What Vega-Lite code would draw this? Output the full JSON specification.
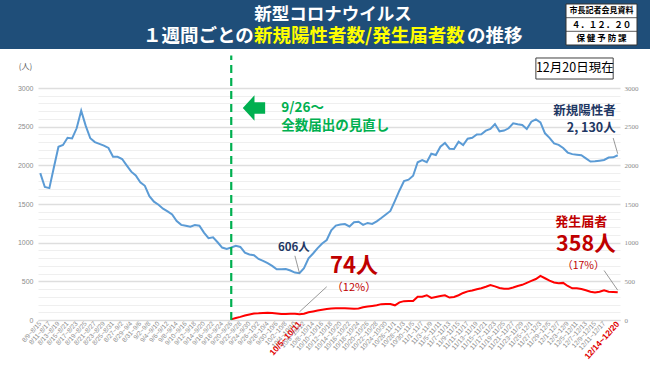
{
  "$schema": "https://vega.github.io/schema/vega-lite/v6.json",
  "padding": 0,
  "spacing": 4,
  "background": "white",
  "config": {"view": {"stroke": null}, "font": "Noto Sans CJK JP"},
  "datasets": {
    "weekly": [
      {"period": "8/9~8/15", "positive": 1900},
      {"period": "8/10~8/16", "positive": 1720},
      {"period": "8/11~8/17", "positive": 1705},
      {"period": "8/12~8/18", "positive": 1975},
      {"period": "8/13~8/19", "positive": 2241},
      {"period": "8/14~8/20", "positive": 2263},
      {"period": "8/15~8/21", "positive": 2357},
      {"period": "8/16~8/22", "positive": 2347},
      {"period": "8/17~8/23", "positive": 2479},
      {"period": "8/18~8/24", "positive": 2707},
      {"period": "8/19~8/25", "positive": 2510},
      {"period": "8/20~8/26", "positive": 2350},
      {"period": "8/21~8/27", "positive": 2300},
      {"period": "8/22~8/28", "positive": 2278},
      {"period": "8/23~8/29", "positive": 2255},
      {"period": "8/24~8/30", "positive": 2225},
      {"period": "8/25~8/31", "positive": 2112},
      {"period": "8/26~9/1", "positive": 2110},
      {"period": "8/27~9/2", "positive": 2082},
      {"period": "8/28~9/3", "positive": 2000},
      {"period": "8/29~9/4", "positive": 1918},
      {"period": "8/30~9/5", "positive": 1870},
      {"period": "8/31~9/6", "positive": 1780},
      {"period": "9/1~9/7", "positive": 1735},
      {"period": "9/2~9/8", "positive": 1600},
      {"period": "9/3~9/9", "positive": 1530},
      {"period": "9/4~9/10", "positive": 1490},
      {"period": "9/5~9/11", "positive": 1440},
      {"period": "9/6~9/12", "positive": 1405},
      {"period": "9/7~9/13", "positive": 1365},
      {"period": "9/8~9/14", "positive": 1280},
      {"period": "9/9~9/15", "positive": 1230},
      {"period": "9/10~9/16", "positive": 1218},
      {"period": "9/11~9/17", "positive": 1206},
      {"period": "9/12~9/18", "positive": 1228},
      {"period": "9/13~9/19", "positive": 1220},
      {"period": "9/14~9/20", "positive": 1130},
      {"period": "9/15~9/21", "positive": 1058},
      {"period": "9/16~9/22", "positive": 1069},
      {"period": "9/17~9/23", "positive": 1005},
      {"period": "9/18~9/24", "positive": 937},
      {"period": "9/19~9/25", "positive": 918},
      {"period": "9/20~9/26", "positive": 938, "notified": 8},
      {"period": "9/21~9/27", "positive": 960, "notified": 25},
      {"period": "9/22~9/28", "positive": 945, "notified": 40},
      {"period": "9/23~9/29", "positive": 870, "notified": 58},
      {"period": "9/24~9/30", "positive": 848, "notified": 72},
      {"period": "9/25~10/1", "positive": 838, "notified": 85},
      {"period": "9/26~10/2", "positive": 789, "notified": 86},
      {"period": "9/27~10/3", "positive": 765, "notified": 90},
      {"period": "9/28~10/4", "positive": 735, "notified": 94},
      {"period": "9/29~10/5", "positive": 700, "notified": 90},
      {"period": "9/30~10/6", "positive": 656, "notified": 84},
      {"period": "10/1~10/7", "positive": 655, "notified": 78},
      {"period": "10/2~10/8", "positive": 660, "notified": 78},
      {"period": "10/3~10/9", "positive": 640, "notified": 82},
      {"period": "10/4~10/10", "positive": 613, "notified": 80},
      {"period": "10/5~10/11", "positive": 606, "notified": 74},
      {"period": "10/6~10/12", "positive": 670, "notified": 82},
      {"period": "10/7~10/13", "positive": 798, "notified": 99},
      {"period": "10/8~10/14", "positive": 860, "notified": 110},
      {"period": "10/9~10/15", "positive": 930, "notified": 122},
      {"period": "10/10~10/16", "positive": 990, "notified": 132},
      {"period": "10/11~10/17", "positive": 1034, "notified": 142},
      {"period": "10/12~10/18", "positive": 1160, "notified": 150},
      {"period": "10/13~10/19", "positive": 1220, "notified": 151},
      {"period": "10/14~10/20", "positive": 1235, "notified": 151},
      {"period": "10/15~10/21", "positive": 1240, "notified": 151},
      {"period": "10/16~10/22", "positive": 1210, "notified": 148},
      {"period": "10/17~10/23", "positive": 1265, "notified": 146},
      {"period": "10/18~10/24", "positive": 1271, "notified": 150},
      {"period": "10/19~10/25", "positive": 1230, "notified": 165},
      {"period": "10/20~10/26", "positive": 1255, "notified": 175},
      {"period": "10/21~10/27", "positive": 1242, "notified": 182},
      {"period": "10/22~10/28", "positive": 1275, "notified": 190},
      {"period": "10/23~10/29", "positive": 1318, "notified": 205},
      {"period": "10/24~10/30", "positive": 1365, "notified": 207},
      {"period": "10/25~10/31", "positive": 1410, "notified": 207},
      {"period": "10/26~11/1", "positive": 1540, "notified": 190},
      {"period": "10/27~11/2", "positive": 1675, "notified": 228},
      {"period": "10/28~11/3", "positive": 1797, "notified": 244},
      {"period": "10/29~11/4", "positive": 1815, "notified": 246},
      {"period": "10/30~11/5", "positive": 1865, "notified": 246},
      {"period": "10/31~11/6", "positive": 2040, "notified": 300},
      {"period": "11/1~11/7", "positive": 2069, "notified": 302},
      {"period": "11/2~11/8", "positive": 2040, "notified": 320},
      {"period": "11/3~11/9", "positive": 2150, "notified": 285},
      {"period": "11/4~11/10", "positive": 2134, "notified": 298},
      {"period": "11/5~11/11", "positive": 2241, "notified": 310},
      {"period": "11/6~11/12", "positive": 2290, "notified": 320},
      {"period": "11/7~11/13", "positive": 2215, "notified": 290},
      {"period": "11/8~11/14", "positive": 2211, "notified": 298},
      {"period": "11/9~11/15", "positive": 2305, "notified": 320},
      {"period": "11/10~11/16", "positive": 2263, "notified": 350},
      {"period": "11/11~11/17", "positive": 2345, "notified": 370},
      {"period": "11/12~11/18", "positive": 2357, "notified": 382},
      {"period": "11/13~11/19", "positive": 2400, "notified": 397},
      {"period": "11/14~11/20", "positive": 2401, "notified": 410},
      {"period": "11/15~11/21", "positive": 2448, "notified": 430},
      {"period": "11/16~11/22", "positive": 2470, "notified": 452},
      {"period": "11/17~11/23", "positive": 2534, "notified": 435},
      {"period": "11/18~11/24", "positive": 2440, "notified": 415},
      {"period": "11/19~11/25", "positive": 2450, "notified": 405},
      {"period": "11/20~11/26", "positive": 2479, "notified": 405},
      {"period": "11/21~11/27", "positive": 2543, "notified": 420},
      {"period": "11/22~11/28", "positive": 2530, "notified": 440},
      {"period": "11/23~11/29", "positive": 2521, "notified": 455},
      {"period": "11/24~11/30", "positive": 2470, "notified": 480},
      {"period": "11/25~12/1", "positive": 2564, "notified": 505},
      {"period": "11/26~12/2", "positive": 2594, "notified": 530},
      {"period": "11/27~12/3", "positive": 2555, "notified": 570},
      {"period": "11/28~12/4", "positive": 2414, "notified": 540},
      {"period": "11/29~12/5", "positive": 2355, "notified": 510},
      {"period": "11/30~12/6", "positive": 2284, "notified": 485},
      {"period": "12/1~12/7", "positive": 2265, "notified": 475},
      {"period": "12/2~12/8", "positive": 2225, "notified": 480},
      {"period": "12/3~12/9", "positive": 2165, "notified": 440},
      {"period": "12/4~12/10", "positive": 2145, "notified": 410},
      {"period": "12/5~12/11", "positive": 2138, "notified": 410},
      {"period": "12/6~12/12", "positive": 2130, "notified": 400},
      {"period": "12/7~12/13", "positive": 2090, "notified": 385},
      {"period": "12/8~12/14", "positive": 2050, "notified": 365},
      {"period": "12/9~12/15", "positive": 2052, "notified": 355},
      {"period": "12/10~12/16", "positive": 2060, "notified": 366},
      {"period": "12/11~12/17", "positive": 2069, "notified": 385},
      {"period": "12/12~12/18", "positive": 2100, "notified": 366},
      {"period": "12/13~12/19", "positive": 2103, "notified": 362},
      {"period": "12/14~12/20", "positive": 2130, "notified": 358}
    ]
  },
  "vconcat": [
    {
      "width": 612,
      "height": 50,
      "view": {"fill": null, "stroke": null},
      "data": {"values": [{}]},
      "layer": [
        {
          "mark": {"type": "rect", "fill": "#1F4E79"},
          "encoding": {
            "x": {"datum": 0, "type": "quantitative", "scale": {"domain": [38, 650], "zero": false, "nice": false}, "axis": null},
            "x2": {"datum": 650},
            "y": {"datum": 0, "type": "quantitative", "scale": {"domain": [0, 50], "zero": false, "nice": false, "reverse": true}, "axis": null},
            "y2": {"datum": 49}
          }
        },
        {
          "mark": {"type": "text", "text": "新型コロナウイルス", "fontSize": 17.5, "fontWeight": "bold", "color": "white", "align": "center", "baseline": "middle"},
          "encoding": {
            "x": {"datum": 333, "type": "quantitative", "axis": null},
            "y": {"datum": 14.5, "type": "quantitative", "axis": null}
          }
        },
        {
          "mark": {"type": "text", "text": "１週間ごとの", "fontSize": 18.5, "fontWeight": "bold", "color": "white", "align": "left", "baseline": "middle"},
          "encoding": {
            "x": {"datum": 143, "type": "quantitative", "axis": null},
            "y": {"datum": 36, "type": "quantitative", "axis": null}
          }
        },
        {
          "mark": {"type": "text", "text": "新規陽性者数/発生届者数", "fontSize": 18.5, "fontWeight": "bold", "color": "#FFFF00", "align": "left", "baseline": "middle"},
          "encoding": {
            "x": {"datum": 254, "type": "quantitative", "axis": null},
            "y": {"datum": 36, "type": "quantitative", "axis": null}
          }
        },
        {
          "mark": {"type": "text", "text": "の推移", "fontSize": 18.5, "fontWeight": "bold", "color": "white", "align": "left", "baseline": "middle"},
          "encoding": {
            "x": {"datum": 467, "type": "quantitative", "axis": null},
            "y": {"datum": 36, "type": "quantitative", "axis": null}
          }
        },
        {
          "mark": {"type": "rect", "fill": "white", "stroke": "#333333", "strokeWidth": 1},
          "encoding": {
            "x": {"datum": 566, "type": "quantitative", "axis": null},
            "x2": {"datum": 637},
            "y": {"datum": 4, "type": "quantitative", "axis": null},
            "y2": {"datum": 45}
          }
        },
        {
          "data": {"values": [{"sep": 17.7}, {"sep": 31.3}]},
          "mark": {"type": "rule", "color": "#333333", "strokeWidth": 0.8},
          "encoding": {
            "x": {"datum": 566, "type": "quantitative", "axis": null},
            "x2": {"datum": 637},
            "y": {"field": "sep", "type": "quantitative", "axis": null}
          }
        },
        {
          "mark": {"type": "text", "text": "市長記者会見資料", "fontSize": 8, "fontWeight": "bold", "color": "black", "align": "center", "baseline": "middle"},
          "encoding": {
            "x": {"datum": 601.5, "type": "quantitative", "axis": null},
            "y": {"datum": 11, "type": "quantitative", "axis": null}
          }
        },
        {
          "mark": {"type": "text", "text": "４．１２．２０", "fontSize": 8.5, "fontWeight": "bold", "color": "black", "align": "center", "baseline": "middle"},
          "encoding": {
            "x": {"datum": 601.5, "type": "quantitative", "axis": null},
            "y": {"datum": 24.5, "type": "quantitative", "axis": null}
          }
        },
        {
          "mark": {"type": "text", "text": "保 健 予 防 課", "fontSize": 8.5, "fontWeight": "bold", "color": "black", "align": "center", "baseline": "middle"},
          "encoding": {
            "x": {"datum": 601.5, "type": "quantitative", "axis": null},
            "y": {"datum": 38, "type": "quantitative", "axis": null}
          }
        }
      ]
    },
    {
      "width": 582,
      "height": 232,
      "data": {"name": "weekly"},
      "resolve": {"axis": {"y": "independent"}},
      "layer": [
        {
          "mark": {"type": "line", "color": "#5B9BD5", "strokeWidth": 2},
          "encoding": {
            "x": {
              "field": "period", "type": "ordinal", "sort": null,
              "scale": {"domain": ["8/9~8/15","8/10~8/16","8/11~8/17","8/12~8/18","8/13~8/19","8/14~8/20","8/15~8/21","8/16~8/22","8/17~8/23","8/18~8/24","8/19~8/25","8/20~8/26","8/21~8/27","8/22~8/28","8/23~8/29","8/24~8/30","8/25~8/31","8/26~9/1","8/27~9/2","8/28~9/3","8/29~9/4","8/30~9/5","8/31~9/6","9/1~9/7","9/2~9/8","9/3~9/9","9/4~9/10","9/5~9/11","9/6~9/12","9/7~9/13","9/8~9/14","9/9~9/15","9/10~9/16","9/11~9/17","9/12~9/18","9/13~9/19","9/14~9/20","9/15~9/21","9/16~9/22","9/17~9/23","9/18~9/24","9/19~9/25","9/20~9/26","9/21~9/27","9/22~9/28","9/23~9/29","9/24~9/30","9/25~10/1","9/26~10/2","9/27~10/3","9/28~10/4","9/29~10/5","9/30~10/6","10/1~10/7","10/2~10/8","10/3~10/9","10/4~10/10","10/5~10/11","10/6~10/12","10/7~10/13","10/8~10/14","10/9~10/15","10/10~10/16","10/11~10/17","10/12~10/18","10/13~10/19","10/14~10/20","10/15~10/21","10/16~10/22","10/17~10/23","10/18~10/24","10/19~10/25","10/20~10/26","10/21~10/27","10/22~10/28","10/23~10/29","10/24~10/30","10/25~10/31","10/26~11/1","10/27~11/2","10/28~11/3","10/29~11/4","10/30~11/5","10/31~11/6","11/1~11/7","11/2~11/8","11/3~11/9","11/4~11/10","11/5~11/11","11/6~11/12","11/7~11/13","11/8~11/14","11/9~11/15","11/10~11/16","11/11~11/17","11/12~11/18","11/13~11/19","11/14~11/20","11/15~11/21","11/16~11/22","11/17~11/23","11/18~11/24","11/19~11/25","11/20~11/26","11/21~11/27","11/22~11/28","11/23~11/29","11/24~11/30","11/25~12/1","11/26~12/2","11/27~12/3","11/28~12/4","11/29~12/5","11/30~12/6","12/1~12/7","12/2~12/8","12/3~12/9","12/4~12/10","12/5~12/11","12/6~12/12","12/7~12/13","12/8~12/14","12/9~12/15","12/10~12/16","12/11~12/17","12/12~12/18","12/13~12/19","12/14~12/20"]},
              "axis": {
                "title": null,
                "values": ["8/9~8/15","8/11~8/17","8/13~8/19","8/15~8/21","8/17~8/23","8/19~8/25","8/21~8/27","8/23~8/29","8/25~8/31","8/27~9/2","8/29~9/4","8/31~9/6","9/2~9/8","9/4~9/10","9/6~9/12","9/8~9/14","9/10~9/16","9/12~9/18","9/14~9/20","9/16~9/22","9/18~9/24","9/20~9/26","9/22~9/28","9/24~9/30","9/26~10/2","9/28~10/4","9/30~10/6","10/2~10/8","10/4~10/10","10/5~10/11","10/6~10/12","10/8~10/14","10/10~10/16","10/12~10/18","10/14~10/20","10/16~10/22","10/18~10/24","10/20~10/26","10/22~10/28","10/24~10/30","10/26~11/1","10/28~11/3","10/30~11/5","11/1~11/7","11/3~11/9","11/5~11/11","11/7~11/13","11/9~11/15","11/11~11/17","11/13~11/19","11/15~11/21","11/17~11/23","11/19~11/25","11/21~11/27","11/23~11/29","11/25~12/1","11/27~12/3","11/29~12/5","12/1~12/7","12/3~12/9","12/5~12/11","12/7~12/13","12/9~12/15","12/11~12/17","12/14~12/20"],
                "labelAngle": -48,
                "labelOverlap": false,
                "labelBound": false,
                "labelFlush": false,
                "labelFont": "Liberation Sans",
                "labelFontSize": {"condition": {"test": "datum.value === '10/5~10/11' || datum.value === '12/14~12/20'", "value": 8.5}, "value": 6.5},
                "labelFontWeight": {"condition": {"test": "datum.value === '10/5~10/11' || datum.value === '12/14~12/20'", "value": "bold"}, "value": "normal"},
                "labelColor": {"condition": {"test": "datum.value === '10/5~10/11' || datum.value === '12/14~12/20'", "value": "#E00000"}, "value": "#8c8c8c"},
                "labelPadding": 2,
                "ticks": false,
                "grid": false,
                "domain": true,
                "domainColor": "#d9d9d9"
              }
            },
            "y": {
              "field": "positive", "type": "quantitative",
              "scale": {"domain": [0, 3000], "nice": false, "zero": true},
              "axis": {
                "orient": "left",
                "values": [0,100,200,300,400,500,600,700,800,900,1000,1100,1200,1300,1400,1500,1600,1700,1800,1900,2000,2100,2200,2300,2400,2500,2600,2700,2800,2900,3000],
                "format": "d",
                "labelExpr": "datum.value % 500 === 0 ? datum.label : ''",
                "grid": true,
                "gridColor": {"condition": {"test": "datum.value % 500 === 0", "value": "#dedede"}, "value": "#efefef"},
                "gridWidth": {"condition": {"test": "datum.value % 500 === 0", "value": 1.5}, "value": 1},
                "ticks": false,
                "domain": false,
                "labelFont": "Liberation Sans",
                "labelFontSize": 7,
                "labelColor": "#8c8c8c",
                "labelPadding": 5,
                "minExtent": 38,
                "maxExtent": 38,
                "title": "(人)",
                "titleAngle": 0,
                "titleX": -13,
                "titleY": -22,
                "titleAlign": "center",
                "titleBaseline": "middle",
                "titleFontSize": 8,
                "titleFontWeight": "normal",
                "titleColor": "#595959"
              }
            }
          }
        },
        {
          "transform": [{"filter": "isValid(datum.notified)"}],
          "mark": {"type": "line", "color": "#FF0000", "strokeWidth": 2},
          "encoding": {
            "x": {"field": "period", "type": "ordinal", "sort": null},
            "y": {
              "field": "notified", "type": "quantitative",
              "axis": {
                "orient": "right",
                "values": [0, 500, 1000, 1500, 2000, 2500, 3000],
                "format": "d",
                "grid": false,
                "ticks": false,
                "domain": false,
                "labelFont": "Liberation Sans Narrow",
                "labelFontSize": 7,
                "labelColor": "#8c8c8c",
                "labelPadding": 4,
                "title": null
              }
            }
          }
        },
        {
          "data": {"values": [{}]},
          "mark": {"type": "rule", "color": "#00B050", "strokeWidth": 2.2, "strokeDash": [8, 5]},
          "encoding": {
            "x": {"datum": "9/20~9/26", "type": "ordinal"},
            "y": {"datum": 0, "type": "quantitative", "axis": null},
            "y2": {"datum": 3420}
          }
        },
        {
          "data": {"values": [{}]},
          "mark": {"type": "point", "filled": true, "color": "#00B050", "opacity": 1, "size": 660, "dx": -1,
                   "shape": "M-0.87,0L0.04,-1L0.04,-0.45L0.87,-0.45L0.87,0.45L0.04,0.45L0.04,1Z"},
          "encoding": {
            "x": {"datum": "9/25~10/1", "type": "ordinal"},
            "y": {"datum": 2741, "type": "quantitative", "axis": null}
          }
        },
        {
          "data": {"values": [{}]},
          "mark": {"type": "text", "text": ["9/26～", "全数届出の見直し"], "fontSize": 13.5, "fontWeight": "bold", "color": "#00B050", "align": "left", "baseline": "middle", "lineHeight": 18},
          "encoding": {
            "x": {"datum": "10/1~10/7", "type": "ordinal"},
            "y": {"datum": 2741, "type": "quantitative", "axis": null}
          }
        },
        {
          "data": {"values": [{}]},
          "mark": {"type": "rect", "fill": "white", "stroke": "#404040", "strokeWidth": 1},
          "encoding": {
            "x": {"datum": "11/26~12/2", "type": "ordinal"},
            "x2": {"datum": "12/13~12/19"},
            "y": {"datum": 3388, "type": "quantitative", "axis": null},
            "y2": {"datum": 3116}
          }
        },
        {
          "data": {"values": [{}]},
          "mark": {"type": "text", "text": "12月20日現在", "fontSize": 12.5, "color": "black", "align": "center", "baseline": "middle", "dx": -2},
          "encoding": {
            "x": {"datum": "12/5~12/11", "type": "ordinal"},
            "y": {"datum": 3253, "type": "quantitative", "axis": null}
          }
        },
        {
          "data": {"values": [{}]},
          "mark": {"type": "rule", "color": "#7f7f7f", "strokeWidth": 0.8},
          "encoding": {
            "x": {"datum": "10/5~10/11", "type": "ordinal"},
            "y": {"datum": 606, "type": "quantitative", "axis": null},
            "x2": {"datum": "10/4~10/10"},
            "y2": {"datum": 830}
          }
        },
        {
          "data": {"values": [{}]},
          "mark": {"type": "rule", "color": "#7f7f7f", "strokeWidth": 0.8},
          "encoding": {
            "x": {"datum": "10/5~10/11", "type": "ordinal"},
            "y": {"datum": 105, "type": "quantitative", "axis": null},
            "x2": {"datum": "10/11~10/17"},
            "y2": {"datum": 430}
          }
        },
        {
          "data": {"values": [{}]},
          "mark": {"type": "rule", "color": "#7f7f7f", "strokeWidth": 0.8},
          "encoding": {
            "x": {"datum": "12/13~12/19", "type": "ordinal"},
            "y": {"datum": 2353, "type": "quantitative", "axis": null},
            "x2": {"datum": "12/14~12/20"},
            "y2": {"datum": 2150}
          }
        },
        {
          "data": {"values": [{}]},
          "mark": {"type": "rule", "color": "#7f7f7f", "strokeWidth": 0.8},
          "encoding": {
            "x": {"datum": "12/11~12/17", "type": "ordinal"},
            "y": {"datum": 640, "type": "quantitative", "axis": null},
            "x2": {"datum": "12/14~12/20"},
            "y2": {"datum": 385}
          }
        },
        {
          "data": {"values": [{}]},
          "mark": {"type": "text", "text": "606人", "fontSize": 11.5, "fontWeight": "bold", "color": "#1F3864", "align": "center", "baseline": "middle", "dx": -1},
          "encoding": {
            "x": {"datum": "10/4~10/10", "type": "ordinal"},
            "y": {"datum": 931, "type": "quantitative", "axis": null}
          }
        },
        {
          "data": {"values": [{}]},
          "mark": {"type": "text", "text": "74人", "fontSize": 22, "fontWeight": "bold", "color": "#C00000", "align": "center", "baseline": "middle"},
          "encoding": {
            "x": {"datum": "10/17~10/23", "type": "ordinal"},
            "y": {"datum": 700, "type": "quantitative", "axis": null}
          }
        },
        {
          "data": {"values": [{}]},
          "mark": {"type": "text", "text": "（12%）", "fontSize": 11, "color": "#C00000", "align": "center", "baseline": "middle"},
          "encoding": {
            "x": {"datum": "10/17~10/23", "type": "ordinal"},
            "y": {"datum": 420, "type": "quantitative", "axis": null}
          }
        },
        {
          "data": {"values": [{}]},
          "mark": {"type": "text", "text": "新規陽性者", "fontSize": 12.5, "fontWeight": "bold", "color": "#1F3864", "align": "right", "baseline": "middle", "dx": -2},
          "encoding": {
            "x": {"datum": "12/14~12/20", "type": "ordinal"},
            "y": {"datum": 2700, "type": "quantitative", "axis": null}
          }
        },
        {
          "data": {"values": [{}]},
          "mark": {"type": "text", "text": "2, 130人", "fontSize": 12.5, "fontWeight": "bold", "color": "#1F3864", "align": "right", "baseline": "middle", "dx": -2},
          "encoding": {
            "x": {"datum": "12/14~12/20", "type": "ordinal"},
            "y": {"datum": 2478, "type": "quantitative", "axis": null}
          }
        },
        {
          "data": {"values": [{}]},
          "mark": {"type": "text", "text": "発生届者", "fontSize": 13, "fontWeight": "bold", "color": "#C00000", "align": "center", "baseline": "middle"},
          "encoding": {
            "x": {"datum": "12/6~12/12", "type": "ordinal"},
            "y": {"datum": 1265, "type": "quantitative", "axis": null}
          }
        },
        {
          "data": {"values": [{}]},
          "mark": {"type": "text", "text": "358人", "font": "'Liberation Sans Narrow', 'Noto Sans CJK JP'", "fontSize": 21.5, "fontWeight": "bold", "color": "#C00000", "align": "center", "baseline": "middle"},
          "encoding": {
            "x": {"datum": "12/7~12/13", "type": "ordinal"},
            "y": {"datum": 965, "type": "quantitative", "axis": null}
          }
        },
        {
          "data": {"values": [{}]},
          "mark": {"type": "text", "text": "（17%）", "fontSize": 10.5, "color": "#C00000", "align": "center", "baseline": "middle", "dx": 2},
          "encoding": {
            "x": {"datum": "12/6~12/12", "type": "ordinal"},
            "y": {"datum": 700, "type": "quantitative", "axis": null}
          }
        }
      ]
    }
  ]
}
